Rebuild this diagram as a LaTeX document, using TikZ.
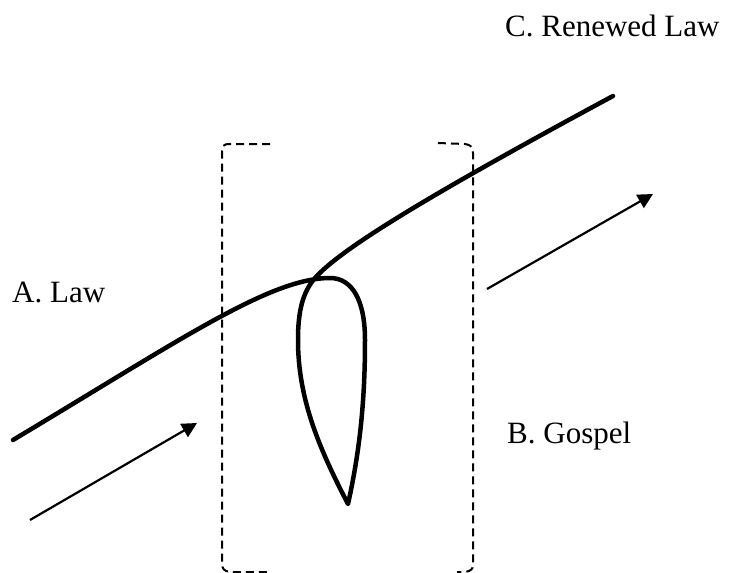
\documentclass[tikz,border=0pt]{standalone}
\usepackage{fontspec}
\setmainfont{Liberation Serif}
\usetikzlibrary{arrows.meta}
\begin{document}
\begin{tikzpicture}[x=1pt,y=-1pt,
  lbl/.style={anchor=base west,inner sep=0pt,font=\fontsize{31}{37}\selectfont},
  lawcurve/.style={line width=4.5pt,line cap=round,line join=round},
  flowarrow/.style={line width=2.2pt,-{Triangle[length=15pt,width=15pt]}},
  gospelbox/.style={line width=2pt,dash pattern=on 8pt off 5pt}]
\useasboundingbox (0,0) rectangle (729,573);
% labels
\node[lbl] (law) at (12,302) {A. Law};
\node[lbl] (renewed) at (505,36) {C. Renewed Law};
\node[lbl] (gospel) at (507,443) {B. Gospel};
% gospel box (two brackets)
\draw[gospelbox] (270,144) -- (230,144) .. controls (223,144) and (222,146) .. (222,152)
  -- (222,563) .. controls (222,569) and (224,571) .. (230,572) -- (270,572);
\draw[gospelbox] (438,143) -- (465,144) .. controls (471,145) and (473,147) .. (473,153)
  -- (473,565) .. controls (473,569) and (471,571) .. (465,572) -- (457,572);
% law curve with loop
\coordinate (start) at (13,440);
\coordinate (top) at (330,278);
\coordinate (rside) at (365,340);
\coordinate (tip) at (348,504);
\coordinate (lside) at (298,340);
\coordinate (cross) at (315,278);
\coordinate (end) at (613,96);
\draw[lawcurve] (start) .. controls (180,340) and (270,278) .. (top)
  .. controls (352,278) and (365,300) .. (rside)
  .. controls (365,400) and (360,450) .. (tip)
  .. controls (320,450) and (298,400) .. (lside)
  .. controls (298,310) and (303,292) .. (cross)
  .. controls (340,250) and (420,200) .. (end);
% arrows
\coordinate (a1) at (30,520);
\coordinate (a2) at (197,423);
\coordinate (b1) at (487,289);
\coordinate (b2) at (653,194);
\draw[flowarrow] (a1) -- (a2);
\draw[flowarrow] (b1) -- (b2);
\end{tikzpicture}
\end{document}
